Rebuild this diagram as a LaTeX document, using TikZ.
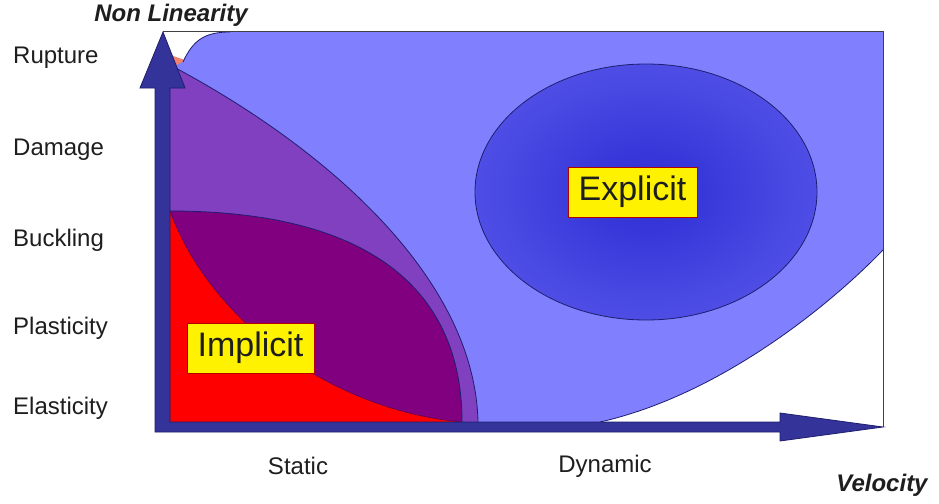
\documentclass[tikz,border=0pt]{standalone}
\usepackage{fontspec}
\setmainfont{Liberation Sans}
\definecolor{lblue}{RGB}{128,128,255}
\definecolor{lpurple}{RGB}{128,64,192}
\definecolor{dpurple}{RGB}{128,0,128}
\definecolor{axisblue}{RGB}{51,51,153}
\definecolor{edgeblue}{RGB}{30,30,110}
\definecolor{ellin}{RGB}{45,45,212}
\definecolor{ellout}{RGB}{78,78,230}
\definecolor{salmon}{RGB}{240,130,110}
\definecolor{txt}{RGB}{30,30,30}
\tikzset{
  region/.style={draw=none},
  edge/.style={draw=edgeblue, line width=0.8pt},
  axislabel/.style={anchor=west, text=txt, font=\fontsize{24}{28}\selectfont, inner sep=0pt},
  xlabel/.style={text=txt, font=\fontsize{24}{28}\selectfont, inner sep=0pt},
  axtitle/.style={text=txt, font=\fontsize{24}{28}\selectfont\bfseries\itshape, inner sep=0pt},
  methodbox/.style={fill=yellow, draw=red!70!black, line width=0.8pt, text=txt,
    font=\fontsize{34}{38}\selectfont, minimum width=127pt, minimum height=50pt, inner sep=0pt}
}
\begin{document}
\begin{tikzpicture}[x=1pt,y=-1pt]
\useasboundingbox (0,0) rectangle (939,503);
\fill[white] (0,0) rectangle (939,503);

% salmon corner patch
\fill[salmon] (170,55) -- (185,60) -- (180,68) -- (170,67) -- cycle;

% big blue region
\fill[lblue] (183,62) .. controls (193,40) and (205,32) .. (230,32) -- (883,32) -- (883,250)
  .. controls (830,305) and (720,395) .. (600,422) -- (165,422) -- (165,70) -- cycle;
\draw[edge] (183,62) .. controls (193,40) and (205,32) .. (230,32);
\draw[edge] (883,250) .. controls (830,305) and (720,395) .. (600,422);

% light purple region
\fill[lpurple] (165,66) -- (172,66) .. controls (330,150) and (475,280) .. (478,422) -- (165,422) -- cycle;
\draw[edge] (172,66) .. controls (330,150) and (475,280) .. (478,422);

% dark purple region
\fill[dpurple] (165,211) -- (170,211) .. controls (370,211) and (462,290) .. (462,422) -- (165,422) -- cycle;
\draw[edge] (170,211) .. controls (370,211) and (462,290) .. (462,422);

% red region
\fill[red] (165,211) -- (170,211) .. controls (210,320) and (330,410) .. (462,422) -- (165,422) -- cycle;
\draw[draw=dpurple!70!black, line width=0.6pt] (170,211) .. controls (210,320) and (330,410) .. (462,422);

% explicit ellipse
\shade[inner color=ellin, outer color=ellout] (646,192) ellipse [x radius=171, y radius=128];
\draw[edge] (646,192) ellipse [x radius=171, y radius=128];

% frame
\draw[black!75, line width=1pt] (163,32) -- (883,32) -- (883,427);

% axes arrow
\draw[fill=axisblue, draw=edgeblue, line width=0.8pt, line join=miter]
  (155,432) -- (155,88) -- (140,88) -- (163,32) -- (185,88) -- (170,88) -- (170,422)
  -- (780,422) -- (780,413) -- (883,427) -- (780,441) -- (780,432) -- cycle;

% labels
\node[axtitle] (nl) at (171,15) {Non Linearity};
\node[axtitle] (vel) at (882,485) {Velocity};
\node[axislabel] (rup) at (13,58) {Rupture};
\node[axislabel] (dam) at (13,150) {Damage};
\node[axislabel] (buc) at (13,240) {Buckling};
\node[axislabel] (pla) at (13,328) {Plasticity};
\node[axislabel] (ela) at (13,408) {Elasticity};
\node[xlabel] (sta) at (298,466) {Static};
\node[xlabel] (dyn) at (605,466) {Dynamic};

\node[methodbox] (imp) at (250.5,348) {Implicit};
\node[methodbox, minimum width=129pt] (exp) at (632.5,192) {Explicit};
\end{tikzpicture}
\end{document}
